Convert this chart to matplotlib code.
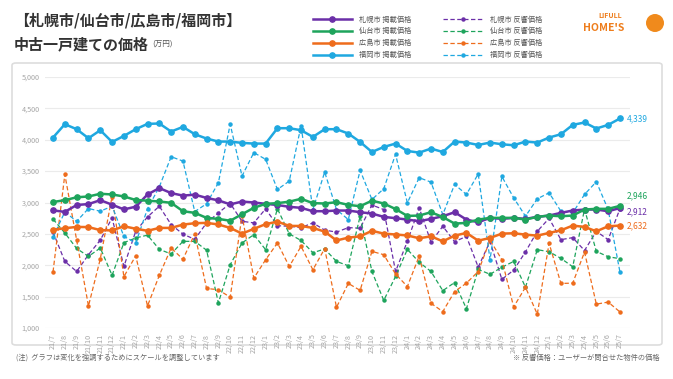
import matplotlib
matplotlib.use("Agg")
import matplotlib.pyplot as plt
from matplotlib.patches import FancyBboxPatch, Ellipse
from matplotlib.ticker import FuncFormatter

plt.rcParams['font.family'] = ['Noto Sans CJK JP', 'DejaVu Sans']

months = ["21/7", "21/8", "21/9", "21/10", "21/11", "21/12",
          "22/1", "22/2", "22/3", "22/4", "22/5", "22/6", "22/7", "22/8", "22/9", "22/10", "22/11", "22/12",
          "23/1", "23/2", "23/3", "23/4", "23/5", "23/6", "23/7", "23/8", "23/9", "23/10", "23/11", "23/12",
          "24/1", "24/2", "24/3", "24/4", "24/5", "24/6", "24/7", "24/8", "24/9", "24/10", "24/11", "24/12",
          "25/1", "25/2", "25/3", "25/4", "25/5", "25/6", "25/7"]

# 掲載価格 (listed)
sapporo_list = [2875, 2850, 2960, 2975, 3037, 2965, 2890, 2933, 3128, 3230, 3150, 3110, 3125, 3073, 3034,
                2970, 3015, 3000, 2979, 2960, 2931, 2915, 2861, 2861, 2872, 2872, 2845, 2824, 2771, 2750,
                2728, 2701, 2739, 2781, 2845, 2728, 2685, 2755, 2739, 2755, 2739, 2771, 2792, 2835, 2872,
                2888, 2888, 2861, 2912]
sendai_list = [3008, 3037, 3083, 3096, 3139, 3128, 3096, 3040, 3029, 3016, 2995, 2861, 2835, 2755, 2739,
               2709, 2813, 2915, 2979, 2990, 3013, 3059, 2990, 2984, 3005, 2962, 2941, 3029, 2984, 2896,
               2786, 2792, 2845, 2768, 2664, 2675, 2728, 2755, 2755, 2755, 2728, 2771, 2792, 2781, 2792,
               2888, 2899, 2899, 2946]
hiroshima_list = [2565, 2590, 2611, 2608, 2560, 2555, 2621, 2582, 2549, 2595, 2595, 2648, 2670, 2675, 2650,
                  2595, 2504, 2580, 2655, 2695, 2627, 2626, 2595, 2536, 2395, 2440, 2461, 2549, 2504, 2490,
                  2475, 2430, 2461, 2381, 2472, 2515, 2392, 2435, 2504, 2510, 2488, 2472, 2515, 2557, 2632,
                  2611, 2541, 2621, 2632]
fukuoka_list = [4035, 4248, 4168, 4024, 4152, 3965, 4061, 4168, 4253, 4259, 4131, 4205, 4088, 4019, 3971,
                3971, 3950, 3939, 3939, 4184, 4184, 4152, 4045, 4168, 4168, 4099, 3965, 3805, 3885, 3939,
                3821, 3795, 3859, 3805, 3971, 3955, 3917, 3955, 3928, 3912, 3971, 3955, 4035, 4088, 4237,
                4275, 4179, 4237, 4339]

# 反響価格 (inquiry)
sapporo_inq = [2530, 2061, 1901, 2168, 2400, 2755, 1981, 2541, 2770, 2941, 2648, 2496, 2413, 2675, 2835,
               2985, 2701, 2675, 2899, 2630, 2621, 2600, 2675, 2560, 2528, 2600, 2590, 2960, 2888, 1901,
               2381, 2915, 2370, 2621, 2376, 2460, 1970, 2380, 1775, 1922, 2213, 2541, 2747, 2408, 2440,
               2235, 2540, 2408, 2900]
sendai_inq = [2735, 2515, 2267, 2141, 2275, 1840, 2360, 2435, 2480, 2253, 2180, 2381, 2381, 2240, 1400,
              2008, 2355, 2488, 2248, 2900, 2500, 2395, 2200, 2259, 2061, 1992, 2781, 1901, 1440, 1821,
              2253, 2048, 1901, 1595, 1725, 1307, 1934, 1856, 1968, 2061, 1650, 2248, 2216, 2110, 1976,
              2893, 2221, 2136, 2104]
hiroshima_inq = [1895, 3448, 2400, 1350, 2100, 3095, 1818, 2150, 1352, 1840, 2275, 2096, 2500, 1630, 1610,
                 1490, 2790, 1795, 2088, 2355, 1981, 2301, 1928, 2265, 1330, 1710, 1600, 2221, 2168, 1860,
                 1661, 2145, 1395, 1261, 1581, 1715, 1900, 2400, 2090, 1336, 1650, 1220, 2350, 1710, 1715,
                 2210, 1380, 1413, 1256]
fukuoka_inq = [2450, 2850, 2700, 2904, 2861, 2941, 2461, 2355, 2900, 3250, 3730, 3660, 2855, 2980, 3315,
               4248, 3421, 3795, 3688, 3208, 3341, 4221, 2888, 3485, 2888, 2728, 3512, 3048, 3219, 3768,
               2995, 3395, 3325, 2808, 3288, 3128, 3455, 2088, 3415, 3075, 2781, 3059, 3155, 2861, 2834,
               3128, 3331, 2888, 1891]

cities = ["札幌市", "仙台市", "広島市", "福岡市"]
colors = ["#6b2fa8", "#1ea45c", "#ee6c1c", "#1fa8e0"]
listed = [sapporo_list, sendai_list, hiroshima_list, fukuoka_list]
inquiry = [sapporo_inq, sendai_inq, hiroshima_inq, fukuoka_inq]

W, H = 673, 379
fig = plt.figure(figsize=(W / 100, H / 100), dpi=100)

# rounded frame around chart (drawn under the axes)
frame = FancyBboxPatch((12 / W, 1 - 345 / H), 650 / W, 282 / H,
                       boxstyle="round,pad=0,rounding_size=0.006",
                       transform=fig.transFigure, facecolor="white",
                       edgecolor="#dddddd", linewidth=1.2, zorder=-5)
fig.patches.append(frame)

ax = fig.add_axes([45 / W, 1 - 328 / H, 585 / W, 251 / H])
ax.set_zorder(2)
ax.set_facecolor("none")
x = list(range(len(months)))

solid_handles = []
dash_handles = []
for city, c, vals in zip(cities, colors, inquiry):
    h, = ax.plot(x, vals, color=c, lw=0.9, ls=(0, (3.5, 2)), marker="o", ms=2.2,
                 label=city + " 反響価格", zorder=2)
    dash_handles.append(h)
for city, c, vals in zip(cities, colors, listed):
    h, = ax.plot(x, vals, color=c, lw=1.8, marker="o", ms=3.8,
                 label=city + " 掲載価格", zorder=3)
    solid_handles.append(h)

# end value labels
end_offsets = {0: -3, 1: 7, 2: 0, 3: 0}
for i, (c, vals) in enumerate(zip(colors, listed)):
    ax.annotate(f"{vals[-1]:,}", (x[-1], vals[-1]), xytext=(5, end_offsets[i]),
                textcoords="offset points", color=c, fontsize=6, va="center",
                annotation_clip=False)

ax.set_xlim(-0.68, 48.85)
ax.set_ylim(1000, 5000)
ax.set_yticks(range(1000, 5001, 500))
ax.yaxis.set_major_formatter(FuncFormatter(lambda v, p: f"{int(v):,}"))
ax.set_xticks(x)
ax.set_xticklabels(months, rotation=90)
ax.tick_params(axis="both", length=0, labelsize=5.2, colors="#a5a5a5")
ax.tick_params(axis="y", pad=4)
ax.tick_params(axis="x", pad=4)
ax.grid(axis="y", color="#ebebeb", lw=0.8)
ax.set_axisbelow(True)
for s in ax.spines.values():
    s.set_visible(False)

# title
fig.text(14 / W, 1 - 21 / H, "【札幌市/仙台市/広島市/福岡市】", fontsize=10.8, fontweight="bold",
         color="#333333", va="center")
fig.text(14 / W, 1 - 44 / H, "中古一戸建ての価格", fontsize=10.8, fontweight="bold",
         color="#333333", va="center")
fig.text(152 / W, 1 - 45 / H, "(万円)", fontsize=5.5, color="#555555", va="center")

leg = fig.legend(handles=solid_handles + dash_handles, loc="upper left",
                 bbox_to_anchor=(306 / W, 1 - 9 / H), ncol=2, frameon=False,
                 fontsize=5.2, handlelength=5.5, columnspacing=4.3, labelspacing=0.55,
                 handletextpad=1.0)
for t in leg.get_texts():
    t.set_color("#555555")

# logo
fig.text(598 / W, 1 - 16 / H, "LIFULL", fontsize=5, fontweight="bold", color="#ee7d1c", va="center")
fig.text(583 / W, 1 - 28 / H, "HOME'S", fontsize=7.5, fontweight="bold", color="#ee7d1c", va="center")
fig.patches.append(Ellipse((655 / W, 1 - 23 / H), 18 / W, 18 / H, transform=fig.transFigure,
                           facecolor="#f08a1c", edgecolor="none"))

# footnotes
fig.text(16 / W, 1 - 358 / H, "(注)  グラフは変化を強調するためにスケールを調整しています",
         fontsize=5.2, color="#666666", va="center")
fig.text(660 / W, 1 - 358 / H, "※ 反響価格：ユーザーが問合せた物件の価格",
         fontsize=5.2, color="#666666", va="center", ha="right")

fig.savefig("out.png", dpi=100)
